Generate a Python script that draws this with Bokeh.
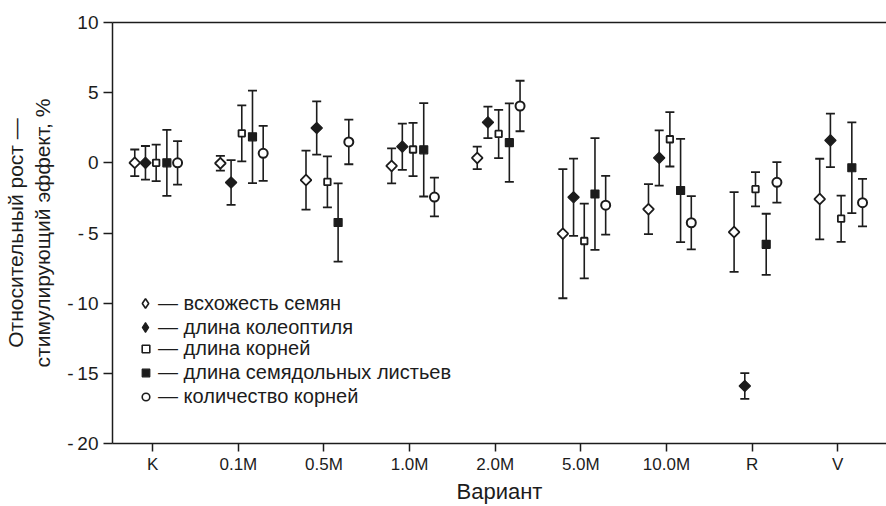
import math
from bokeh.plotting import figure
from bokeh.models import (ColumnDataSource, Whisker, FixedTicker, Legend, LegendItem,
                          LinearAxis, Range1d, TeeHead)
from bokeh.embed import file_html
from bokeh.resources import INLINE

# ---------------- data ----------------
categories = ["K", "0.1M", "0.5M", "1.0M", "2.0M", "5.0M", "10.0M", "R", "V"]
series_names = ["всхожесть семян", "длина колеоптиля", "длина корней",
                "длина семядольных листьев", "количество корней"]

germination = [0.0, -0.03, -1.23, -0.22, 0.35, -5.05, -3.3, -4.93, -2.58]
germination_err = [0.95, 0.52, 2.1, 1.25, 0.8, 4.6, 1.78, 2.84, 2.87]

coleoptile = [0.0, -1.4, 2.48, 1.15, 2.88, -2.45, 0.35, -15.9, 1.6]
coleoptile_err = [1.2, 1.6, 1.9, 1.65, 1.12, 2.75, 1.97, 0.92, 1.9]

root_length = [0.0, 2.1, -1.36, 0.95, 2.06, -5.57, 1.68, -1.88, -3.98]
root_length_err = [1.3, 2.0, 1.82, 1.9, 1.72, 2.66, 1.94, 1.22, 1.65]

cotyledon = [0.0, 1.85, -4.25, 0.93, 1.44, -2.22, -1.97, -5.81, -0.35]
cotyledon_err = [2.35, 3.3, 2.79, 3.33, 2.8, 3.98, 3.68, 2.18, 3.24]

root_count = [0.0, 0.68, 1.49, -2.44, 4.05, -3.02, -4.27, -1.39, -2.84]
root_count_err = [1.55, 1.96, 1.59, 1.38, 1.8, 2.09, 1.9, 1.44, 1.69]

y_ticks = [-20, -15, -10, -5, 0, 5, 10]

# ---------------- style ----------------
INK = "#1c1c1c"
FONT = "Liberation Sans"
offsets = [-0.21, -0.085, 0.04, 0.165, 0.29]
marker_styles = [
    dict(marker="square", legend_marker="diamond", angle=math.pi / 4, size=7.6,
         fill_color="white", line_width=1.8),
    dict(marker="square", legend_marker="diamond", angle=math.pi / 4, size=8,
         fill_color=INK, line_width=1.2),
    dict(marker="square", legend_marker="square", angle=0, size=6.5,
         fill_color="white", line_width=1.8),
    dict(marker="square", legend_marker="square", angle=0, size=8,
         fill_color=INK, line_width=1.2),
    dict(marker="circle", legend_marker="circle", angle=0, size=9,
         fill_color="white", line_width=2.0),
]
values = [germination, coleoptile, root_length, cotyledon, root_count]
errors = [germination_err, coleoptile_err, root_length_err, cotyledon_err, root_count_err]

p = figure(width=886, height=506, output_backend="svg", toolbar_location=None,
           x_range=Range1d(-0.47, 8.57), y_range=Range1d(-20, 10),
           min_border_left=112, min_border_right=0, min_border_top=22, min_border_bottom=59,
           background_fill_color="white", border_fill_color="white")
p.outline_line_color = None
p.grid.visible = False

legend_items = []
for name, vals, errs, off, st in zip(series_names, values, errors, offsets, marker_styles):
    xs = [i + off for i in range(len(categories))]
    src = ColumnDataSource(dict(x=xs, y=vals,
                                lower=[v - e for v, e in zip(vals, errs)],
                                upper=[v + e for v, e in zip(vals, errs)]))
    w = Whisker(source=src, base="x", upper="upper", lower="lower", dimension="height",
                line_color=INK, line_width=1.6, level="underlay",
                upper_head=TeeHead(size=9, line_color=INK, line_width=1.8),
                lower_head=TeeHead(size=9, line_color=INK, line_width=1.8))
    p.add_layout(w)
    p.scatter("x", "y", source=src, marker=st["marker"], angle=st["angle"],
              size=st["size"], fill_color=st["fill_color"], line_color=INK,
              line_width=st["line_width"])
    # legend proxy: a NaN point is never drawn in the plot, only its legend swatch
    proxy = p.scatter(x=[float("nan")], y=[float("nan")], marker=st["legend_marker"],
                      size=st["size"], fill_color=st["fill_color"], line_color=INK,
                      line_width=min(st["line_width"], 1.6))
    legend_items.append(LegendItem(label="— " + name, renderers=[proxy]))

common = dict(background_fill_alpha=0, border_line_alpha=0, padding=0, margin=0,
              label_text_font=FONT, label_text_font_size="20px", label_text_color=INK)
# diamonds get a larger swatch box so the (narrow) diamond marker is drawn larger
legend_a = Legend(items=legend_items[:2], location=(20, 104), spacing=0,
                  glyph_width=26, glyph_height=24, label_standoff=0, **common)
legend_b = Legend(items=legend_items[2:], location=(24, 35), spacing=1,
                  glyph_width=19, glyph_height=19, label_standoff=3, **common)
p.add_layout(legend_a)
p.add_layout(legend_b)

# axes
for ax in (p.xaxis[0], p.yaxis[0]):
    ax.axis_line_color = INK
    ax.axis_line_width = 1.5
    ax.major_tick_line_color = INK
    ax.major_tick_line_width = 1.5
    ax.major_tick_in = 0
    ax.minor_tick_line_color = None
    ax.major_label_text_color = INK
    ax.axis_label_text_color = INK
    ax.major_label_text_font = FONT
    ax.axis_label_text_font = FONT
    ax.axis_label_text_font_style = "normal"

p.xaxis.ticker = FixedTicker(ticks=list(range(len(categories))))
p.xaxis.major_label_overrides = {i: c for i, c in enumerate(categories)}
p.xaxis.major_tick_out = 8
p.xaxis.major_label_text_font_size = "17px"
p.xaxis.major_label_standoff = 3
p.xaxis.axis_label = "Вариант"
p.xaxis.axis_label_text_font_size = "22px"
p.xaxis.axis_label_standoff = 2

p.yaxis.ticker = FixedTicker(ticks=y_ticks)
p.yaxis.major_label_overrides = {t: (("-\u2009" + str(-t)) if t < 0 else str(t)) for t in y_ticks}
p.yaxis.major_tick_out = 9
p.yaxis.major_label_text_font_size = "19px"
p.yaxis.major_label_standoff = 5
p.yaxis.axis_label = "Относительный рост —\nстимулирующий эффект, %"
p.yaxis.axis_label_text_font_size = "21px"
p.yaxis.axis_label_standoff = 10

top = LinearAxis(ticker=FixedTicker(ticks=[]), axis_line_color=INK, axis_line_width=1.5,
                 major_tick_out=0, major_tick_in=0, minor_tick_out=0, minor_tick_in=0,
                 major_label_text_font_size="0px", major_label_standoff=0)
p.add_layout(top, "above")

open("out.html", "w").write(file_html(p, INLINE))
